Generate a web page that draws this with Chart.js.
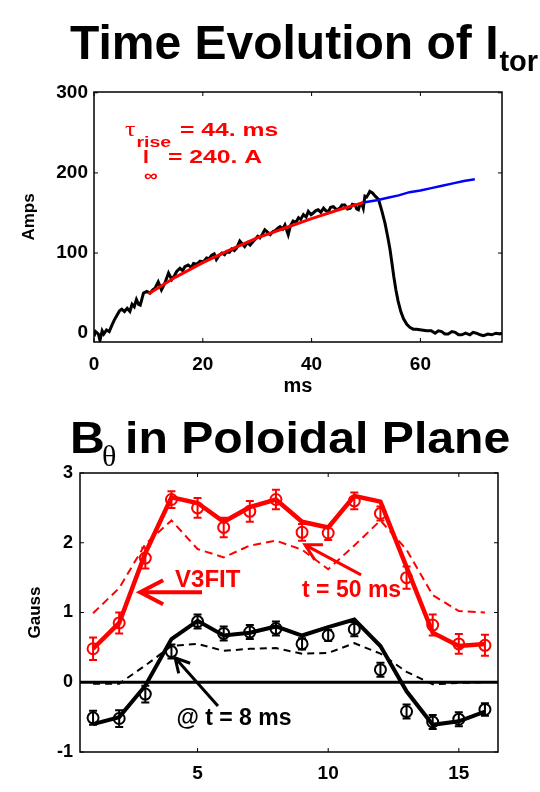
<!DOCTYPE html>
<html>
<head>
<meta charset="utf-8">
<title>Time Evolution of Itor / B-theta in Poloidal Plane</title>
<script src="https://cdn.jsdelivr.net/npm/chart.js@4.4.1/dist/chart.umd.min.js"></script>
<style>
  html, body { margin: 0; padding: 0; background: #fff; }
  .panel { position: absolute; left: 0; width: 540px; }
  #panelTop { top: 0; height: 400px; }
  #panelBot { top: 400px; height: 392px; }
</style>
</head>
<body>
<div class="panel" id="panelTop"><canvas id="itorChart"></canvas></div>
<div class="panel" id="panelBot"><canvas id="bthetaChart"></canvas></div>
<script>
// ---- top panel: toroidal current (A) vs time (ms) ----
const itorTime = [
  0, 0.3, 0.8, 1.1, 1.5, 1.8, 2.3, 2.8, 3.3, 3.7,
  4.2, 4.7, 5.1, 5.6, 6.1, 6.6, 7.0, 7.4, 7.8, 8.2,
  8.5, 9.1, 9.7, 10.3, 10.8, 11.2, 11.8, 12.4, 13.0, 13.7,
  14.3, 14.8, 15.2, 15.8, 16.3, 16.7, 17.3, 17.9, 18.3, 18.9,
  19.5, 20.1, 20.7, 21.2, 21.6, 22.1, 22.5, 23.0, 23.5, 24.0,
  24.4, 24.9, 25.3, 25.8, 26.2, 26.8, 27.3, 27.7, 28.2, 28.7,
  29.2, 29.6, 30.1, 30.5, 31.0, 31.4, 31.9, 32.4, 32.9, 33.3,
  33.8, 34.2, 34.7, 35.1, 35.7, 36.1, 36.6, 37.1, 37.6, 38.0,
  38.5, 39.0, 39.4, 39.9, 40.3, 40.8, 41.2, 41.7, 42.2, 42.6,
  43.1, 43.5, 44.0, 44.6, 45.2, 45.6, 46.1, 46.6, 47.1, 47.5,
  48.0, 48.3, 48.6, 48.9, 49.2, 49.5, 49.8, 50.1, 50.4, 50.7,
  51.2, 51.7, 52.3, 52.9, 53.5, 54.0, 54.4, 54.8, 55.1, 55.5,
  55.9, 56.4, 56.9, 57.5, 58.1, 58.7, 59.3, 60.2, 61.2, 62.0,
  62.7, 63.3, 63.9, 64.5, 65.1, 65.8, 66.4, 67.0, 67.6, 68.3,
  69.1, 69.7, 70.3, 71.0, 71.6, 72.4, 73.1, 73.9, 74.6, 75
];
const itorAmps = [
  -4, 2, -1, -9, 3, -1, 4, 2, 10, 16,
  22, 28, 30, 27, 31, 27, 36, 33, 42, 36,
  35, 50, 52, 50, 54, 56, 64, 54, 62, 75,
  67, 72, 77, 81, 78, 83, 85, 82, 87, 86,
  90, 89, 94, 93, 97, 99, 92, 97, 100, 98,
  102, 101, 105, 103, 106, 115, 111, 108, 113, 110,
  114, 117, 121, 119, 124, 129, 126, 123, 127, 128,
  131, 133, 130, 135, 123, 134, 140, 138, 144, 142,
  148, 145, 152, 148, 150, 153, 154, 151, 156, 153,
  152, 157, 158, 154, 156, 160, 160, 155, 156, 161,
  160, 155, 154, 161, 162, 156, 171, 170, 173, 177,
  175, 171, 167, 153, 137, 120, 105, 86, 71, 54,
  40, 27, 18, 11, 7, 5, 5, 4, 3, 3,
  0, 3, 2, -1, -1, 2, 1, -2, -2, 0,
  -2, 1, 0, -2, -3, -1, -2, 0, -1, 0
];
// rise fit (red) and its extrapolation (blue)
const fitTime = [10, 15, 20, 25, 30, 35, 40, 45, 49.5];
const fitAmps = [49, 70, 88, 104, 119, 131, 143, 154, 163];
const extTime = [49.5, 52, 54, 56, 58, 60, 62, 64, 66, 68, 70];
const extAmps = [163, 166, 169, 172, 176, 178, 181, 184, 187, 190, 192];
const itorXTicks = [0, 20, 40, 60];
const itorYTicks = [0, 100, 200, 300];

// ---- bottom panel: B_theta (Gauss) at the 16 poloidal probes ----
const probeIndex = [1, 2, 3, 4, 5, 6, 7, 8, 9, 10, 11, 12, 13, 14, 15, 16];
// t = 50 ms (red)
const b50Meas = [0.48, 0.85, 1.78, 2.62, 2.50, 2.22, 2.45, 2.62, 2.15, 2.14, 2.60, 2.42, 1.50, 0.82, 0.55, 0.53];
const b50Err  = [0.16, 0.15, 0.15, 0.12, 0.14, 0.14, 0.15, 0.14, 0.12, 0.10, 0.12, 0.10, 0.16, 0.15, 0.14, 0.15];
const b50Fit  = [0.48, 0.85, 1.85, 2.65, 2.57, 2.30, 2.51, 2.62, 2.30, 2.22, 2.67, 2.59, 1.65, 0.71, 0.52, 0.55];
const b50Init = [0.99, 1.35, 1.98, 2.32, 1.91, 1.79, 1.96, 2.03, 1.90, 1.62, 1.96, 2.32, 1.90, 1.25, 1.02, 1.00];
// t = 8 ms (black)
const b8Meas = [-0.51, -0.52, -0.17, 0.44, 0.87, 0.70, 0.72, 0.77, 0.55, 0.67, 0.76, 0.18, -0.42, -0.57, -0.53, -0.39];
const b8Err  = [0.10, 0.12, 0.12, 0.10, 0.10, 0.10, 0.10, 0.10, 0.08, 0.08, 0.10, 0.10, 0.10, 0.10, 0.10, 0.09];
const b8Fit  = [-0.60, -0.50, -0.05, 0.62, 0.88, 0.67, 0.71, 0.80, 0.67, 0.79, 0.90, 0.52, -0.13, -0.61, -0.56, -0.42];
const b8Init = [-0.02, -0.02, 0.24, 0.52, 0.55, 0.45, 0.48, 0.49, 0.41, 0.42, 0.56, 0.41, 0.15, -0.03, -0.01, 0.00];
const probeXTicks = [5, 10, 15];
const gaussTicks = [-1, 0, 1, 2, 3];

const FONT = "'Liberation Sans', Arial, sans-serif";
const SERIF = "'Liberation Serif', 'DejaVu Serif', serif";
const RED = '#ff0000';

function pairs(xs, ys) {
  return xs.map((x, i) => ({ x: x, y: ys[i] }));
}

// text with optional horizontal stretch, returns drawn width
function drawText(ctx, str, x, y, font, color, sx) {
  sx = sx || 1;
  ctx.save();
  ctx.font = font;
  ctx.fillStyle = color;
  ctx.textAlign = 'left';
  ctx.textBaseline = 'alphabetic';
  ctx.translate(x, y);
  ctx.scale(sx, 1);
  ctx.fillText(str, 0, 0);
  const w = ctx.measureText(str).width * sx;
  ctx.restore();
  return w;
}

function drawArrow(ctx, x1, y1, x2, y2, head, spread, width, color) {
  const ang = Math.atan2(y2 - y1, x2 - x1);
  ctx.save();
  ctx.strokeStyle = color;
  ctx.lineWidth = width;
  ctx.beginPath();
  ctx.moveTo(x1, y1);
  ctx.lineTo(x2, y2);
  ctx.moveTo(x2 - head * Math.cos(ang - spread), y2 - head * Math.sin(ang - spread));
  ctx.lineTo(x2, y2);
  ctx.lineTo(x2 - head * Math.cos(ang + spread), y2 - head * Math.sin(ang + spread));
  ctx.stroke();
  ctx.restore();
}

// box around the plot with small inward ticks on all four sides
const frameTicks = {
  id: 'frameTicks',
  afterDraw(chart) {
    const { ctx, chartArea: a, scales: { x, y } } = chart;
    ctx.save();
    ctx.strokeStyle = '#000';
    ctx.lineWidth = 1.5;
    ctx.strokeRect(a.left, a.top, a.right - a.left, a.bottom - a.top);
    ctx.lineWidth = 1;
    ctx.beginPath();
    x.ticks.forEach(t => {
      const px = x.getPixelForValue(t.value);
      ctx.moveTo(px, a.bottom); ctx.lineTo(px, a.bottom - 4);
      ctx.moveTo(px, a.top); ctx.lineTo(px, a.top + 4);
    });
    y.ticks.forEach(t => {
      const py = y.getPixelForValue(t.value);
      ctx.moveTo(a.left, py); ctx.lineTo(a.left + 4, py);
      ctx.moveTo(a.right, py); ctx.lineTo(a.right - 4, py);
    });
    ctx.stroke();
    ctx.restore();
  }
};

// vertical error bars for datasets carrying an `errors` array
const errorBars = {
  id: 'errorBars',
  afterDatasetsDraw(chart) {
    const { ctx, scales: { y } } = chart;
    chart.data.datasets.forEach((ds, i) => {
      if (!ds.errors) return;
      const meta = chart.getDatasetMeta(i);
      ctx.save();
      ctx.strokeStyle = ds.borderColor;
      ctx.lineWidth = 2;
      ctx.beginPath();
      meta.data.forEach((pt, j) => {
        const v = ds.data[j].y, e = ds.errors[j];
        const yTop = y.getPixelForValue(v + e);
        const yBot = y.getPixelForValue(v - e);
        ctx.moveTo(pt.x, yTop); ctx.lineTo(pt.x, yBot);
        ctx.moveTo(pt.x - 4, yTop); ctx.lineTo(pt.x + 4, yTop);
        ctx.moveTo(pt.x - 4, yBot); ctx.lineTo(pt.x + 4, yBot);
      });
      ctx.stroke();
      ctx.restore();
    });
  }
};

function axis(min, max, ticks, fit, extra, size, pad) {
  return Object.assign({
    type: 'linear',
    min: min,
    max: max,
    grid: { display: false, drawTicks: false },
    border: { display: false },
    ticks: { color: '#000', font: { family: FONT, size: size || 18, weight: 'bold' }, padding: pad || 7 },
    afterBuildTicks: s => { s.ticks = ticks.map(v => ({ value: v })); },
    afterFit: fit
  }, extra || {});
}

function lineSet(data, color, width, dash) {
  return {
    data: data,
    borderColor: color,
    borderWidth: width,
    borderDash: dash || [],
    pointRadius: 0,
    tension: 0,
    fill: false
  };
}

function pointSet(data, errors, color) {
  return {
    data: data,
    errors: errors,
    showLine: false,
    borderColor: color,
    pointBorderColor: color,
    pointBackgroundColor: 'rgba(0,0,0,0)',
    pointRadius: 5.5,
    pointBorderWidth: 2
  };
}

// ---------- top chart ----------
const itorLabels = {
  id: 'itorLabels',
  afterDraw(chart) {
    const ctx = chart.ctx, x = chart.scales.x, y = chart.scales.y;
    const w = drawText(ctx, 'Time Evolution of I', 70, 59, 'bold 48px ' + FONT, '#000');
    drawText(ctx, 'tor', 70 + w + 1, 71, 'bold 29px ' + FONT, '#000');

    const ax = x.getPixelForValue(5.7), ay = y.getPixelForValue(246);
    drawText(ctx, 'τ', ax, ay, '20px ' + SERIF, RED, 1.3);
    drawText(ctx, 'rise', ax + 11.5, ay + 11, 'bold 15px ' + FONT, RED, 1.3);
    drawText(ctx, '= 44. ms', ax + 55, ay, 'bold 19px ' + FONT, RED, 1.3);

    const bx = x.getPixelForValue(9.0), by = y.getPixelForValue(212.5);
    drawText(ctx, 'I', bx, by, 'bold 19px ' + FONT, RED, 1.1);
    drawText(ctx, '∞', bx + 1, by + 18, 'bold 16px ' + FONT, RED, 1.2);
    drawText(ctx, '= 240. A', bx + 25, by, 'bold 19px ' + FONT, RED, 1.3);
  }
};

new Chart(document.getElementById('itorChart').getContext('2d'), {
  type: 'line',
  data: {
    datasets: [
      lineSet(pairs(fitTime, fitAmps), RED, 3),
      lineSet(pairs(extTime, extAmps), '#0000ff', 2.5),
      lineSet(pairs(itorTime, itorAmps), '#000', 3)
    ]
  },
  options: {
    responsive: true,
    maintainAspectRatio: false,
    animation: false,
    layout: { padding: { left: 0, top: 92, right: 38, bottom: 0 } },
    plugins: { legend: { display: false }, tooltip: { enabled: false } },
    scales: {
      x: axis(0, 75, itorXTicks, s => { s.height = 58; }, {
        position: 'bottom',
        title: { display: true, text: 'ms', color: '#000', font: { family: FONT, size: 20, weight: 'bold' }, padding: { top: 0, bottom: 2 } }
      }, 19, 11),
      y: axis(-11, 301, itorYTicks, s => { s.width = 94; }, {
        position: 'left',
        title: { display: true, text: 'Amps', color: '#000', font: { family: FONT, size: 17, weight: 'bold' }, padding: { top: 19, bottom: 0 } }
      }, 19, 6)
    }
  },
  plugins: [frameTicks, itorLabels]
});

// ---------- bottom chart ----------
const bthetaLabels = {
  id: 'bthetaLabels',
  afterDraw(chart) {
    const ctx = chart.ctx, x = chart.scales.x, y = chart.scales.y;
    drawText(ctx, 'B', 70, 53, 'bold 45px ' + FONT, '#000', 1.07);
    drawText(ctx, 'θ', 102, 66, '30px ' + SERIF, '#000');
    drawText(ctx, 'in Poloidal Plane', 125, 53, 'bold 45px ' + FONT, '#000', 1.07);

    drawText(ctx, 'V3FIT', x.getPixelForValue(4.14), y.getPixelForValue(1.37), 'bold 24px ' + FONT, RED);
    drawArrow(ctx, x.getPixelForValue(5.17), y.getPixelForValue(1.29),
      x.getPixelForValue(2.8), y.getPixelForValue(1.29), 26, 0.48, 4, RED);

    drawText(ctx, 't = 50 ms', x.getPixelForValue(9.0), y.getPixelForValue(1.22), 'bold 23px ' + FONT, RED);
    drawArrow(ctx, x.getPixelForValue(11.26), y.getPixelForValue(1.54),
      x.getPixelForValue(9.11), y.getPixelForValue(1.97), 18, 0.5, 3, RED);

    drawText(ctx, '@ t = 8 ms', x.getPixelForValue(4.19), y.getPixelForValue(-0.61), 'bold 23px ' + FONT, '#000');
    drawArrow(ctx, x.getPixelForValue(5.78), y.getPixelForValue(-0.34),
      x.getPixelForValue(4.14), y.getPixelForValue(0.35), 16, 0.5, 3, '#000');
  }
};

new Chart(document.getElementById('bthetaChart').getContext('2d'), {
  type: 'line',
  data: {
    datasets: [
      pointSet(pairs(probeIndex, b50Meas), b50Err, RED),
      pointSet(pairs(probeIndex, b8Meas), b8Err, '#000'),
      lineSet(pairs(probeIndex, b50Fit), RED, 4.5),
      lineSet(pairs(probeIndex, b8Fit), '#000', 4),
      lineSet([{ x: 0.5, y: 0 }, { x: 16.5, y: 0 }], '#000', 3),
      lineSet(pairs(probeIndex, b50Init), RED, 2, [8, 5]),
      lineSet(pairs(probeIndex, b8Init), '#000', 2, [7, 5])
    ]
  },
  options: {
    responsive: true,
    maintainAspectRatio: false,
    animation: false,
    layout: { padding: { left: 0, top: 73, right: 42, bottom: 0 } },
    plugins: { legend: { display: false }, tooltip: { enabled: false } },
    scales: {
      x: axis(0.5, 16.5, probeXTicks, s => { s.height = 40; }, { position: 'bottom' }, 19, 10),
      y: axis(-1, 3, gaussTicks, s => { s.width = 80; }, {
        position: 'left',
        title: { display: true, text: 'Gauss', color: '#000', font: { family: FONT, size: 17, weight: 'bold' }, padding: { top: 25, bottom: 0 } }
      }, 18, 7)
    }
  },
  plugins: [frameTicks, errorBars, bthetaLabels]
});
</script>
</body>
</html>
